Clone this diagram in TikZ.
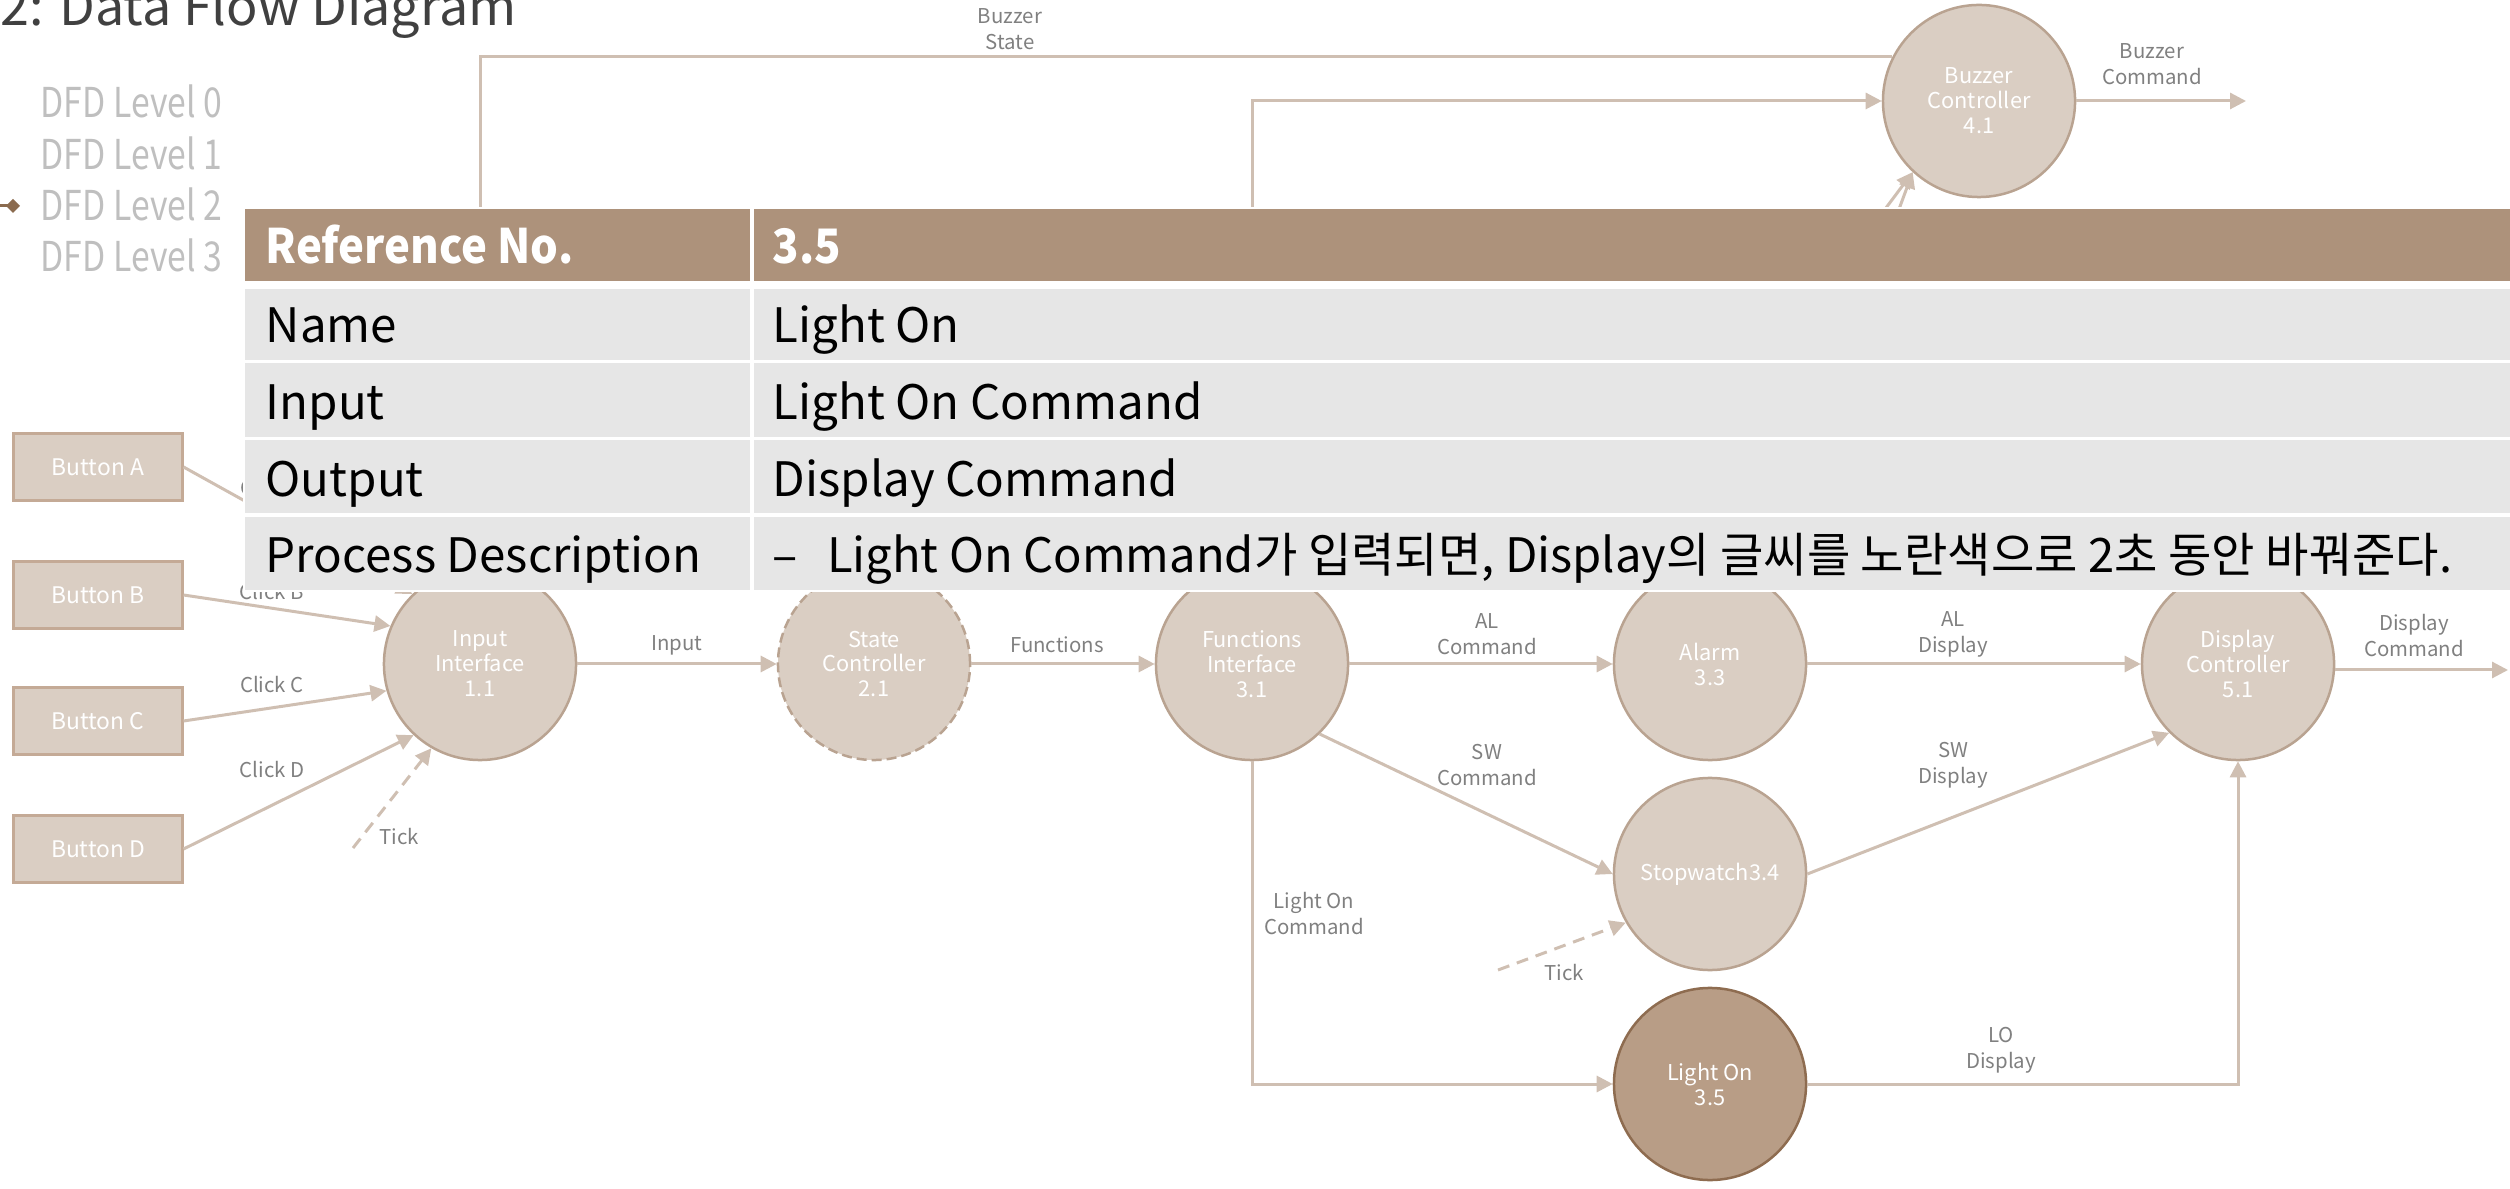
\documentclass[tikz,border=0pt]{standalone}
\usepackage{fontspec}
\setmainfont{Noto Sans CJK KR}
\usetikzlibrary{arrows.meta}
\definecolor{cfill}{HTML}{DACEC3}
\definecolor{cline}{HTML}{B9A391}
\definecolor{lfill}{HTML}{B89D86}
\definecolor{lline}{HTML}{8E6C50}
\definecolor{rline}{HTML}{C4AA96}
\definecolor{fcol}{HTML}{CFBFB2}
\definecolor{lab}{HTML}{808080}
\definecolor{hdr}{HTML}{AD927B}
\definecolor{rowc}{HTML}{E6E6E6}
\definecolor{ttl}{HTML}{404040}
\definecolor{lvl}{HTML}{BFBFBF}
\definecolor{markc}{HTML}{8B6B4F}
\tikzset{
 proc/.style={circle, minimum size=1.92cm, inner sep=0pt, fill=cfill, draw=cline, line width=0.025cm, text=white, align=center, font=\fontsize{6.2}{7.1}\selectfont},
 lightproc/.style={proc, fill=lfill, draw=lline},
 ext/.style={rectangle, minimum width=1.68cm, minimum height=0.66cm, inner sep=0pt, fill=cfill, draw=rline, line width=0.03cm, text=white, font=\fontsize{6.5}{7.5}\selectfont},
 flow/.style={draw=fcol, line width=0.03cm, -{Triangle[length=0.16cm,width=0.16cm]}},
 tickflow/.style={flow, dash pattern=on 0.12cm off 0.08cm},
 lbl/.style={text=lab, align=center, inner sep=0pt, font=\fontsize{5.8}{7.4}\selectfont},
 celltxt/.style={anchor=base west, inner sep=0pt, text=black, font=\fontsize{13.5}{16}\selectfont},
 hdrtxt/.style={anchor=base west, inner sep=0pt, text=white, font=\fontsize{13.5}{16}\selectfont\bfseries},
 lvltxt/.style={anchor=base west, inner sep=0pt, text=lvl, font=\fontsize{11.7}{14}\selectfont},
}
\begin{document}
\begin{tikzpicture}[x=0.01cm,y=-0.01cm]
\useasboundingbox (0,0) rectangle (2510,1189);
% title and level menu
\node[anchor=base west, inner sep=0pt, text=ttl, font=\fontsize{14.8}{17}\selectfont] (title) at (0,26) {2: Data Flow Diagram};
\node[lvltxt] (lv0) at (40,118) {\scalebox{0.82}[1]{DFD Level 0}};
\node[lvltxt] (lv1) at (40,170) {\scalebox{0.82}[1]{DFD Level 1}};
\node[lvltxt] (lv2) at (40,221) {\scalebox{0.82}[1]{DFD Level 2}};
\node[lvltxt] (lv3) at (40,272) {\scalebox{0.82}[1]{DFD Level 3}};
\coordinate (mk) at (13,206);
\fill[markc] (6,206) -- (13,199) -- (20,206) -- (13,213) -- cycle;
\draw[markc, line width=0.03cm] (0,206) -- (mk);
% external entities
\node[ext] (ba) at (98,467) {Button A};
\node[ext] (bb) at (98,595) {Button B};
\node[ext] (bc) at (98,721) {Button C};
\node[ext] (bd) at (98,849) {Button D};
% processes
\node[proc] (ii) at (480,664) {Input\\Interface\\1.1};
\node[proc, dash pattern=on 0.1cm off 0.05cm] (sc) at (874,664) {State\\Controller\\2.1};
\node[proc] (fi) at (1252,664) {Functions\\Interface\\3.1};
\node[proc] (al) at (1710,664) {Alarm\\3.3};
\node[proc] (sw) at (1710,874) {Stopwatch3.4};
\node[lightproc] (lo) at (1710,1084) {Light On\\3.5};
\node[proc] (dc) at (2238,664) {Display\\Controller\\5.1};
\node[proc] (bz) at (1979,101) {Buzzer\\Controller\\4.1};
% flows
\draw[flow] (ba.east) -- (ii.134);
\draw[flow] (bb.east) -- (ii.157);
\draw[flow] (bc.east) -- (ii.196);
\draw[flow] (bd.east) -- (ii.227);
\coordinate (t1) at (353,848);
\draw[tickflow] (t1) -- (ii.240);
\draw[flow] (ii) -- (sc);
\draw[flow] (sc) -- (fi);
\draw[flow] (fi) -- (al);
\draw[flow] (fi.-46) -- (sw.west);
\draw[flow] (fi.south) |- (lo.west);
\coordinate (t2) at (1498,970);
\draw[tickflow] (t2) -- (sw.210);
\draw[flow] (al) -- (dc);
\draw[flow] (sw.east) -- (dc.225);
\draw[flow] (lo.east) -| (dc.south);
\coordinate (dout) at (2508,670);
\draw[flow] (dc.east |- dout) -- (dout);
\coordinate (bout) at (2246,101);
\draw[flow] (bz) -- (bout);
\draw[flow] (bz.153) -| (ii.north);
\draw[flow] (fi.north) |- (bz.west);
\coordinate (bzsrc) at (1698,460);
\draw[flow] (bzsrc) -- (bz.227);
\draw[flow] (al.58) -- (bz.227);
% flow labels
\node[lbl] (lca) at (272,488) {Click A};
\node[lbl] (lcb) at (272,592) {Click B};
\node[lbl] (lcc) at (272,685) {Click C};
\node[lbl] (lcd) at (272,770) {Click D};
\node[lbl] (ltk1) at (399,837) {Tick};
\node[lbl] (lin) at (677,645) {Input};
\node[lbl] (lfn) at (1057,645) {Functions};
\node[lbl] (lalc) at (1487,634) {AL\\Command};
\node[lbl] (lswc) at (1487,765) {SW\\Command};
\node[lbl] (lloc) at (1314,914) {Light On\\Command};
\node[lbl] (ltk2) at (1564,973) {Tick};
\node[lbl] (lald) at (1953,634) {AL\\Display};
\node[lbl] (lswd) at (1953,765) {SW\\Display};
\node[lbl] (llod) at (2001,1050) {LO\\Display};
\node[lbl] (ldc) at (2414,636) {Display\\Command};
\node[lbl] (lbs) at (1010,29) {Buzzer\\State};
\node[lbl] (lbc) at (2152,64) {Buzzer\\Command};
% table
\fill[white] (243,207) rectangle (2510,592);
\fill[hdr] (245,209) rectangle (750,281);
\fill[hdr] (754,209) rectangle (2510,281);
\fill[rowc] (245,289) rectangle (750,360);
\fill[rowc] (754,289) rectangle (2510,360);
\fill[rowc] (245,363) rectangle (750,437);
\fill[rowc] (754,363) rectangle (2510,437);
\fill[rowc] (245,440) rectangle (750,513);
\fill[rowc] (754,440) rectangle (2510,513);
\fill[rowc] (245,517) rectangle (750,590);
\fill[rowc] (754,517) rectangle (2510,590);
\node[hdrtxt] (hk) at (265,264) {\scalebox{0.92}[1]{Reference No.}};
\node[hdrtxt] (hv) at (772,264) {\scalebox{0.92}[1]{3.5}};
\node[celltxt] (nk) at (265,343) {Name};
\node[celltxt] (nv) at (772,343) {Light On};
\node[celltxt] (ik) at (265,420) {Input};
\node[celltxt] (iv) at (772,420) {Light On Command};
\node[celltxt] (ok) at (265,497) {Output};
\node[celltxt] (ov) at (772,497) {Display Command};
\node[celltxt] (pk) at (265,573) {Process Description};
\node[celltxt] (pv) at (772,573) {\scalebox{0.993}[1]{–\hspace{0.62em}Light On Command가 입력되면, Display의 글씨를 노란색으로 2초 동안 바꿔준다.}};
\end{tikzpicture}
\end{document}
